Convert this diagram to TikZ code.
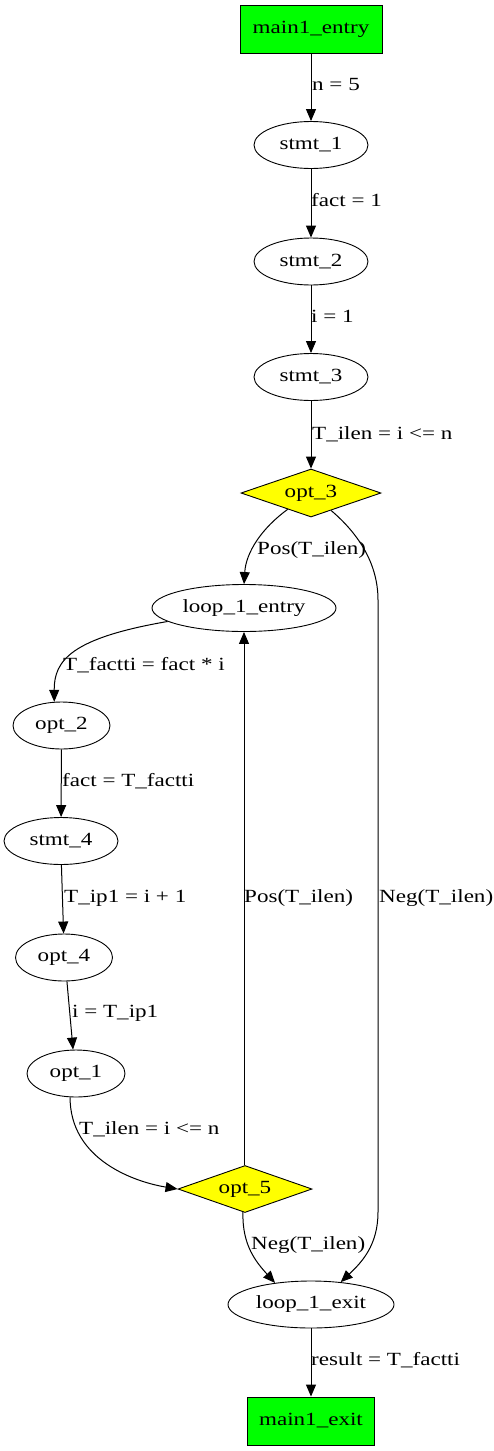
\documentclass[tikz,border=0pt]{standalone}
\usepackage{fontspec}
\setmainfont{Liberation Serif}[FakeStretch=1.24]
\usetikzlibrary{shapes.geometric,arrows.meta}
\definecolor{nodegreen}{HTML}{00FF00}
\definecolor{nodeyellow}{HTML}{FFFF00}
\tikzset{
  base/.style={draw=black, line width=0.9pt, inner sep=0pt, font=\fontsize{18.6}{22}\selectfont},
  boxnode/.style={base, rectangle, fill=nodegreen, minimum height=48pt},
  ellnode/.style={base, ellipse, minimum height=47pt},
  dianode/.style={base, diamond, fill=nodeyellow, aspect=2.9},
  edge/.style={draw=black, line width=1pt, -{Triangle[length=12pt,width=10pt]}},
  lbl/.style={inner sep=0pt, anchor=west, text height=12pt, text depth=4pt, font=\fontsize{18.6}{22}\selectfont}
}
\begin{document}
\begin{tikzpicture}[x=1pt,y=-1pt]
\useasboundingbox (0,0) rectangle (494,1451);
% nodes
\node[boxnode, minimum width=142pt] (entry) at (311,29) {main1\_entry};
\node[ellnode, minimum width=114pt] (s1) at (311,145) {stmt\_1};
\node[ellnode, minimum width=114pt] (s2) at (311,261.5) {stmt\_2};
\node[ellnode, minimum width=114pt] (s3) at (311,377) {stmt\_3};
\node[dianode, minimum width=140pt, minimum height=48pt] (o3) at (311,493) {opt\_3};
\node[ellnode, minimum width=184pt] (l1e) at (244,608) {loop\_1\_entry};
\node[ellnode, minimum width=97pt] (o2) at (61.5,725.5) {opt\_2};
\node[ellnode, minimum width=114pt] (s4) at (61,841) {stmt\_4};
\node[ellnode, minimum width=97pt] (o4) at (64,957.5) {opt\_4};
\node[ellnode, minimum width=98pt] (o1) at (76,1073.5) {opt\_1};
\node[dianode, minimum width=134pt, minimum height=47pt] (o5) at (245,1189) {opt\_5};
\node[ellnode, minimum width=166pt] (l1x) at (311,1304.5) {loop\_1\_exit};
\node[boxnode, minimum width=127pt] (exit) at (311,1421) {main1\_exit};
% edges
\draw[edge] (entry) -- (s1);
\node[lbl] (e1) at (312,86) {n = 5};
\draw[edge] (s1) -- (s2);
\node[lbl] (e2) at (311,202) {fact = 1};
\draw[edge] (s2) -- (s3);
\node[lbl] (e3) at (311,318) {i = 1};
\draw[edge] (s3) -- (o3);
\node[lbl] (e4) at (312,435) {T\_ilen = i <= n};
\draw[edge] (o3.215) .. controls (262,528) and (246,552) .. (l1e.north);
\node[lbl] (e5) at (257,550) {Pos(T\_ilen)};
\draw[edge] (o3.-41) .. controls (360,535) and (378,565) .. (378,600) -- (378,1212) .. controls (378,1245) and (362,1262) .. (l1x.37);
\node[lbl] (e6) at (379,898) {Neg(T\_ilen)};
\draw[edge] (l1e.190) .. controls (72,638) and (54,660) .. (o2.107);
\node[lbl] (e7) at (63,666) {T\_factti = fact * i};
\draw[edge] (o2) -- (s4);
\node[lbl] (e8) at (62,782) {fact = T\_factti};
\draw[edge] (s4.-89) -- (o4.91);
\node[lbl] (e9) at (64,898) {T\_ip1 = i + 1};
\draw[edge] (o4.-83) -- (o1.97);
\node[lbl] (e10) at (72,1013) {i = T\_ip1};
\draw[edge] (o1.256) .. controls (70,1160) and (135,1182) .. (o5.west);
\node[lbl] (e11) at (79,1130) {T\_ilen = i <= n};
\draw[edge] (o5.north -| l1e.south) -- (l1e.south);
\node[lbl] (e12) at (244,898) {Pos(T\_ilen)};
\draw[edge] (o5.265) .. controls (242,1245) and (256,1262) .. (l1x.149);
\node[lbl] (e13) at (251,1245) {Neg(T\_ilen)};
\draw[edge] (l1x) -- (exit);
\node[lbl] (e14) at (311,1361) {result = T\_factti};
\end{tikzpicture}
\end{document}
